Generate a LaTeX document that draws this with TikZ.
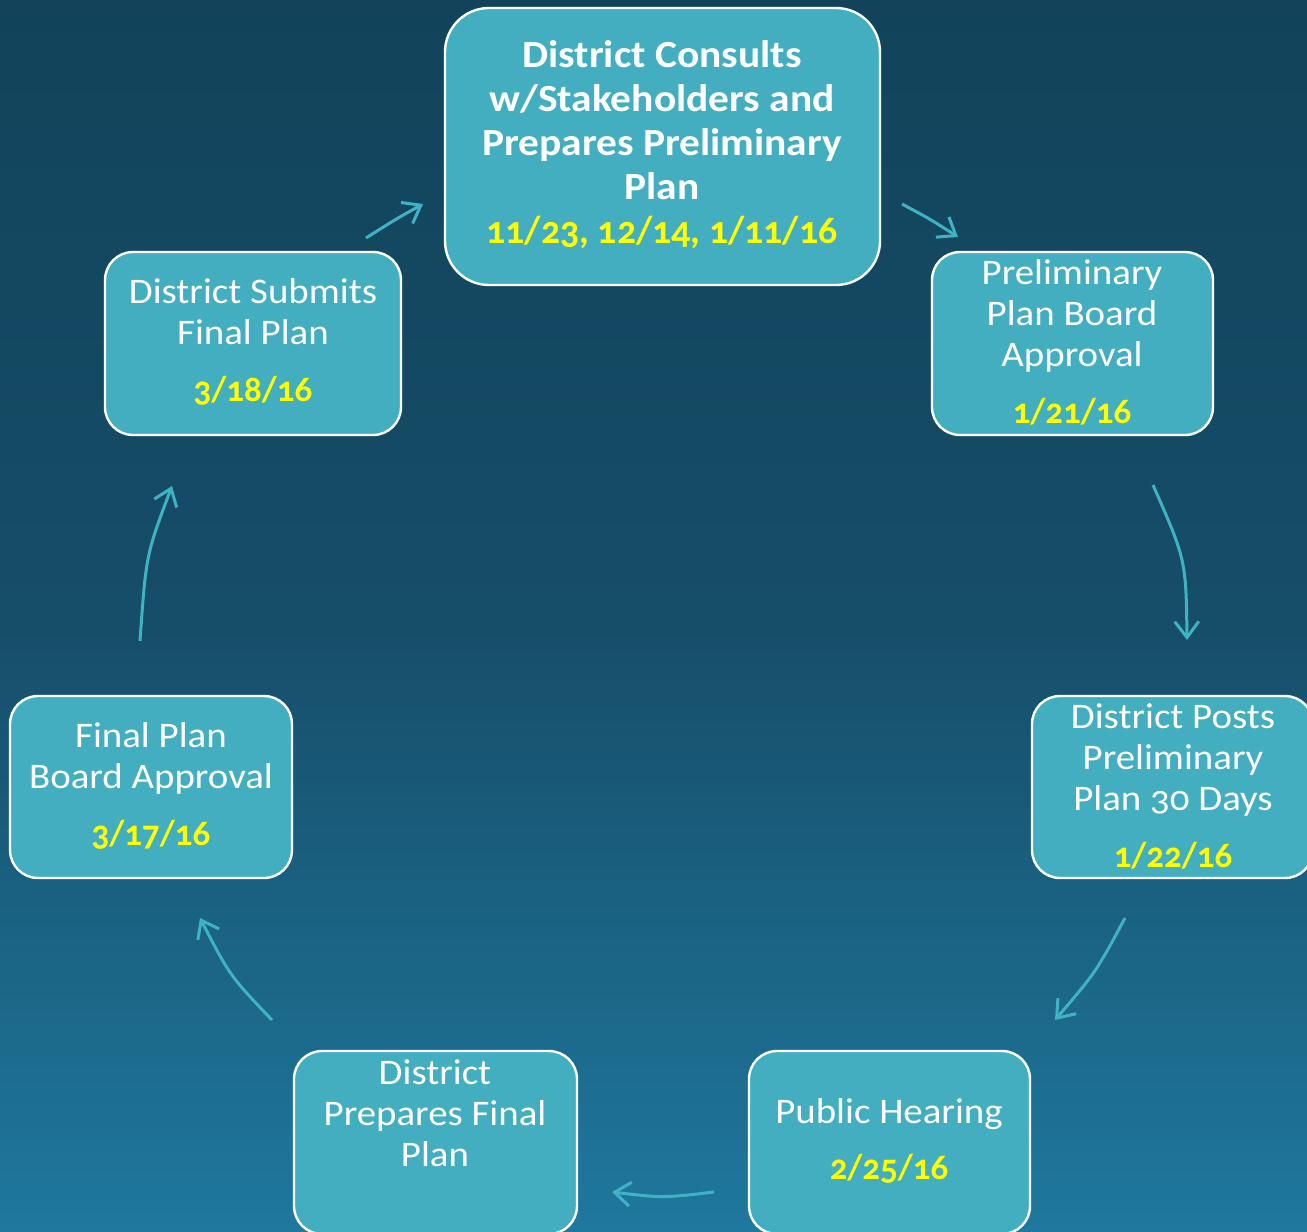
\documentclass[tikz,border=0pt]{standalone}
\usepackage{fontspec}
\setmainfont{Carlito}[Numbers=OldStyle, FakeStretch=1.08]
\newfontfamily\datefont{Carlito}[Numbers=OldStyle, FakeStretch=0.97]
\usetikzlibrary{arrows.meta}
\definecolor{boxfill}{HTML}{42AEBF}
\definecolor{arrowc}{HTML}{3FB2C3}
\definecolor{bgtop}{HTML}{12435B}
\definecolor{bgmid}{HTML}{164D68}
\definecolor{bgbot}{HTML}{1F789E}
\definecolor{dateyel}{HTML}{FFFF00}
\tikzset{
  stepbox/.style={draw=white, line width=1.2pt, fill=boxfill, rounded corners=14pt, inner sep=0pt},
  boxtext/.style={text=white, align=center, inner sep=0pt, font=\fontsize{18}{20.5}\selectfont},
  bigtext/.style={text=white, align=center, inner sep=0pt, font=\bfseries\fontsize{19.2}{22}\selectfont},
  conn/.style={draw=arrowc, line width=1.5pt, -{Straight Barb[length=8pt,width=12pt]}}
}
\newcommand{\dte}[1]{\textcolor{dateyel}{\datefont\bfseries\fontsize{18}{20.5}\selectfont #1}}
\newcommand{\dtebig}[1]{\textcolor{dateyel}{\datefont\bfseries\fontsize{19.5}{22}\selectfont #1}}
\begin{document}
\begin{tikzpicture}[x=0.5pt,y=-0.5pt]
\useasboundingbox (0,0) rectangle (1307,1232);
\clip (0,0) rectangle (1307,1232);
\shade[top color=bgtop, bottom color=bgmid] (0,-1) rectangle (1307,616);
\shade[top color=bgmid, bottom color=bgbot] (0,615) rectangle (1307,1233);

% boxes
\node[stepbox, rounded corners=22pt, minimum width=217.5pt, minimum height=138.5pt] (b1) at (662.5,146.5) {};
\node[stepbox, minimum width=140.5pt, minimum height=91.5pt] (b2) at (1072.5,343.5) {};
\node[stepbox, minimum width=140.5pt, minimum height=91pt] (b3) at (1172.5,787) {};
\node[stepbox, minimum width=140.5pt, minimum height=91.5pt] (b4) at (889.5,1142.5) {};
\node[stepbox, minimum width=141.5pt, minimum height=91.5pt] (b5) at (435.5,1142.5) {};
\node[stepbox, minimum width=141pt, minimum height=91pt] (b6) at (151,787) {};
\node[stepbox, minimum width=148pt, minimum height=91.5pt] (b7) at (253,343.5) {};

% texts
\node[bigtext] (t1) at (662,145) {District Consults\\w/Stakeholders and\\Prepares Preliminary\\Plan\\\dtebig{11/23, 12/14, 1/11/16}};
\node[boxtext] (t2) at (1072,342) {Preliminary\\Plan Board\\Approval\\[8pt]\dte{1/21/16}};
\node[boxtext] (t3) at (1173,786) {District Posts\\Preliminary\\Plan 30 Days\\[8pt]\dte{1/22/16}};
\node[boxtext] (t4) at (889,1141) {Public Hearing\\[7.5pt]\dte{2/25/16}};
\node[boxtext] (t5) at (435,1113) {District\\Prepares Final\\Plan};
\node[boxtext] (t6) at (151,786) {Final Plan\\Board Approval\\[8pt]\dte{3/17/16}};
\node[boxtext] (t7) at (253,342) {District Submits\\Final Plan\\[8pt]\dte{3/18/16}};

% connector end points
\coordinate (a1s) at (366,238); \coordinate (a1e) at (423,204);
\coordinate (a2s) at (902,204); \coordinate (a2e) at (958,237);
\coordinate (a3s) at (1153,485); \coordinate (a3e) at (1187,640);
\coordinate (a4s) at (1125,918); \coordinate (a4e) at (1055,1020);
\coordinate (a5s) at (714,1192); \coordinate (a5e) at (612,1192);
\coordinate (a6s) at (272,1020); \coordinate (a6e) at (200,918);
\coordinate (a7s) at (140,641); \coordinate (a7e) at (172,486);

\draw[conn] (a1s) .. controls (396,219) .. (a1e);
\draw[conn] (a2s) .. controls (930,219) .. (a2e);
\draw[conn] (a3s) .. controls (1186,560) .. (a3e);
\draw[conn] (a4s) .. controls (1096,972) .. (a4e);
\draw[conn] (a5s) .. controls (663,1198) .. (a5e);
\draw[conn] (a6s) .. controls (230,976) .. (a6e);
\draw[conn] (a7s) .. controls (146,555) .. (a7e);
\end{tikzpicture}
\end{document}
